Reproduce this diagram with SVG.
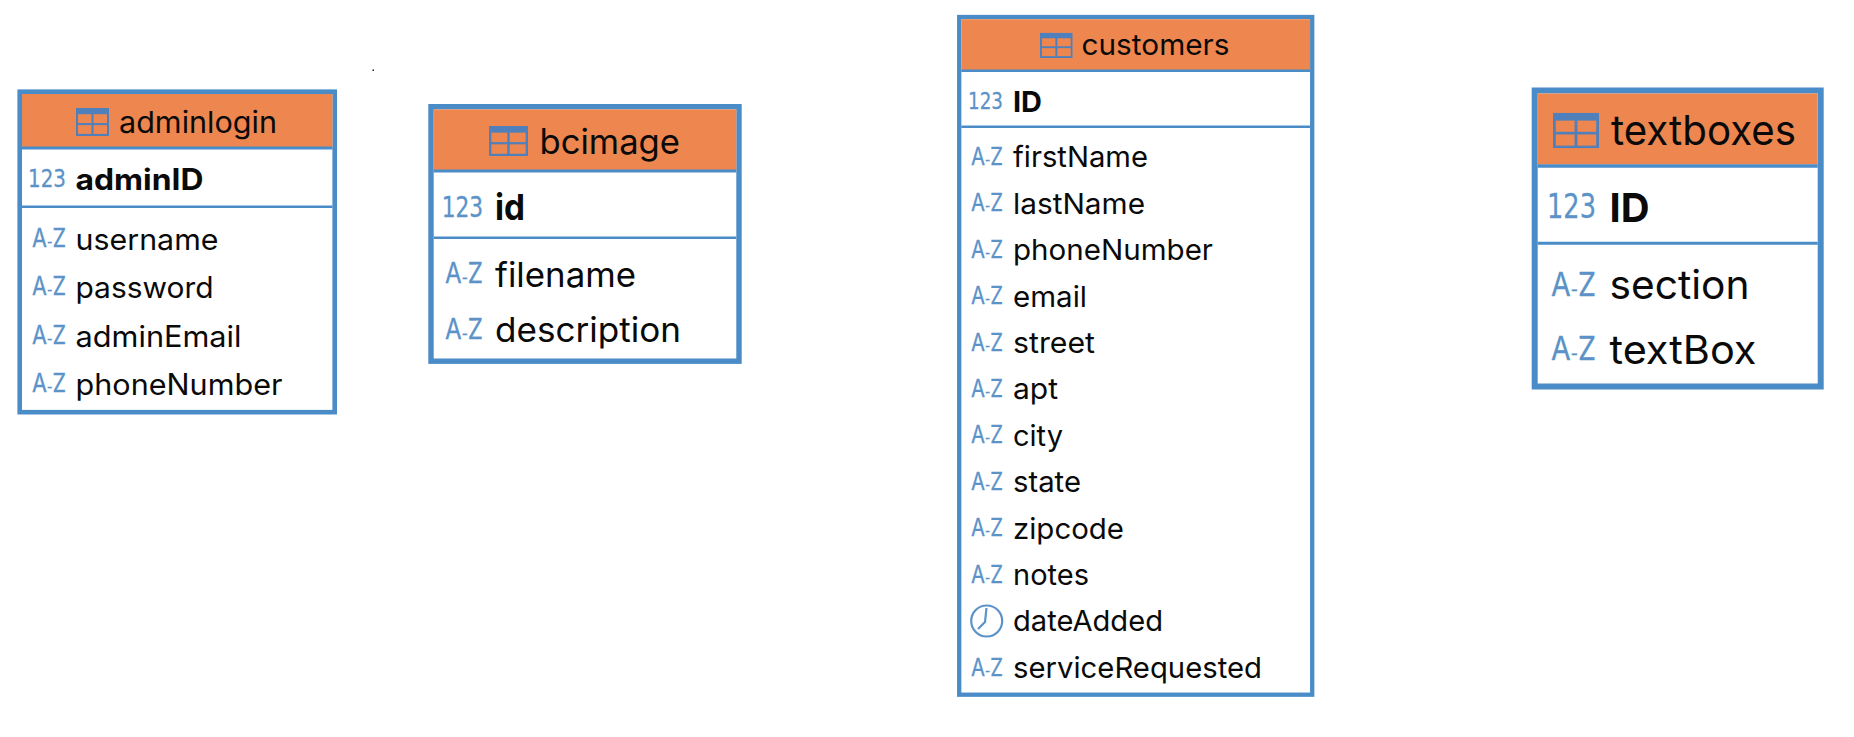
<svg xmlns="http://www.w3.org/2000/svg" width="1854" height="737" viewBox="0 0 1854 737">
<style>
.frame{fill:#fff;stroke:#4a8cc7}
.head{fill:#ee864f}
.div{stroke:#4a8cc7;fill:none}
text{font-family:Inter,"Liberation Sans",sans-serif;fill:#0a0a0a}
.pk{font-weight:700}
text.ico{fill:#5b93c8;stroke:#5b93c8;stroke-width:.3}
.hy{font-size:.55em}
.num{font-family:"DejaVu Sans",sans-serif}
.clock{fill:none;stroke:#5b93c8;stroke-width:2.2}
</style>
<defs>
<symbol id="tbl" viewBox="0 0 33 27" preserveAspectRatio="none">
<rect x="0" y="0" width="33" height="27" fill="#5080bb"/>
<rect x="2" y="6" width="13.5" height="8.5" fill="#ee864f"/>
<rect x="17.5" y="6" width="13.5" height="8.5" fill="#ee864f"/>
<rect x="2" y="16.5" width="13.5" height="8.5" fill="#ee864f"/>
<rect x="17.5" y="16.5" width="13.5" height="8.5" fill="#ee864f"/>
</symbol>
</defs>
<rect width="1854" height="737" fill="#fff"/>
<rect x="372.5" y="69.5" width="1.5" height="1.5" fill="#222"/>
<g id="connectors"></g>

<g id="adminlogin" font-size="29.5">
<rect class="frame" x="19.7" y="91.7" width="315" height="320.5" stroke-width="4.6"/>
<rect class="head" x="22" y="94" width="310.5" height="53"/>
<path class="div" stroke-width="3" d="M22 148H332.5"/>
<path class="div" stroke-width="2.4" d="M22 206.7H332.5"/>
<use href="#tbl" x="76" y="108" width="33" height="28"/>
<text x="119" y="132.7" font-size="30" textLength="158" lengthAdjust="spacingAndGlyphs">adminlogin</text>
<text class="ico num" x="28" y="187" font-size="25" textLength="38" lengthAdjust="spacingAndGlyphs">123</text>
<text class="pk" x="75.5" y="190.3" textLength="128" lengthAdjust="spacingAndGlyphs">adminID</text>
<text class="ico" x="32" y="247" font-size="25" textLength="34" lengthAdjust="spacingAndGlyphs">A<tspan class="hy">-</tspan>Z</text>
<text x="75.5" y="250" textLength="143" lengthAdjust="spacingAndGlyphs">username</text>
<text class="ico" x="32" y="295" font-size="25" textLength="34" lengthAdjust="spacingAndGlyphs">A<tspan class="hy">-</tspan>Z</text>
<text x="75.5" y="298" textLength="138" lengthAdjust="spacingAndGlyphs">password</text>
<text class="ico" x="32" y="344" font-size="25" textLength="34" lengthAdjust="spacingAndGlyphs">A<tspan class="hy">-</tspan>Z</text>
<text x="75.5" y="347" textLength="166" lengthAdjust="spacingAndGlyphs">adminEmail</text>
<text class="ico" x="32" y="392" font-size="25" textLength="34" lengthAdjust="spacingAndGlyphs">A<tspan class="hy">-</tspan>Z</text>
<text x="75.5" y="395" textLength="207" lengthAdjust="spacingAndGlyphs">phoneNumber</text>
</g>

<g id="bcimage" font-size="34">
<rect class="frame" x="431" y="106.7" width="308" height="254.5" stroke-width="5.4"/>
<rect class="head" x="433.7" y="109.4" width="302.6" height="60.6"/>
<path class="div" stroke-width="3" d="M433.7 171H736.3"/>
<path class="div" stroke-width="2.6" d="M433.7 237.7H736.3"/>
<use href="#tbl" x="489" y="126" width="39" height="30"/>
<text x="539.5" y="154" font-size="35" textLength="140.5" lengthAdjust="spacingAndGlyphs">bcimage</text>
<text class="ico num" x="441.7" y="216.7" font-size="29" textLength="41.5" lengthAdjust="spacingAndGlyphs">123</text>
<text class="pk" x="495" y="220" font-size="36" textLength="30" lengthAdjust="spacingAndGlyphs">id</text>
<text class="ico" x="445" y="283" font-size="29" textLength="38" lengthAdjust="spacingAndGlyphs">A<tspan class="hy">-</tspan>Z</text>
<text x="495" y="287" textLength="141" lengthAdjust="spacingAndGlyphs">filename</text>
<text class="ico" x="445" y="339" font-size="29" textLength="38" lengthAdjust="spacingAndGlyphs">A<tspan class="hy">-</tspan>Z</text>
<text x="495" y="342" textLength="186" lengthAdjust="spacingAndGlyphs">description</text>
</g>

<g id="customers" font-size="29">
<rect class="frame" x="959.2" y="17" width="353" height="677.7" stroke-width="4.3"/>
<rect class="head" x="961.3" y="19.2" width="348.8" height="50.8"/>
<path class="div" stroke-width="2.6" d="M961.3 70.7H1310.1"/>
<path class="div" stroke-width="2.6" d="M961.3 126.7H1310.1"/>
<use href="#tbl" x="1040" y="32.7" width="32.7" height="25.3"/>
<text x="1081.5" y="55" font-size="29.5" textLength="148" lengthAdjust="spacingAndGlyphs">customers</text>
<text class="ico num" x="968" y="109" font-size="23.5" textLength="35" lengthAdjust="spacingAndGlyphs">123</text>
<text class="pk" x="1013" y="112.2" textLength="29" lengthAdjust="spacingAndGlyphs">ID</text>
<text class="ico" x="971" y="165" font-size="24" textLength="32" lengthAdjust="spacingAndGlyphs">A<tspan class="hy">-</tspan>Z</text>
<text x="1013" y="167.4" textLength="135" lengthAdjust="spacingAndGlyphs">firstName</text>
<text class="ico" x="971" y="211.4" font-size="24" textLength="32" lengthAdjust="spacingAndGlyphs">A<tspan class="hy">-</tspan>Z</text>
<text x="1013" y="213.8" textLength="132" lengthAdjust="spacingAndGlyphs">lastName</text>
<text class="ico" x="971" y="257.8" font-size="24" textLength="32" lengthAdjust="spacingAndGlyphs">A<tspan class="hy">-</tspan>Z</text>
<text x="1013" y="260.2" textLength="200" lengthAdjust="spacingAndGlyphs">phoneNumber</text>
<text class="ico" x="971" y="304.2" font-size="24" textLength="32" lengthAdjust="spacingAndGlyphs">A<tspan class="hy">-</tspan>Z</text>
<text x="1013" y="306.6" textLength="74" lengthAdjust="spacingAndGlyphs">email</text>
<text class="ico" x="971" y="350.6" font-size="24" textLength="32" lengthAdjust="spacingAndGlyphs">A<tspan class="hy">-</tspan>Z</text>
<text x="1013" y="353" textLength="82" lengthAdjust="spacingAndGlyphs">street</text>
<text class="ico" x="971" y="397" font-size="24" textLength="32" lengthAdjust="spacingAndGlyphs">A<tspan class="hy">-</tspan>Z</text>
<text x="1013" y="399.4" textLength="45" lengthAdjust="spacingAndGlyphs">apt</text>
<text class="ico" x="971" y="443.4" font-size="24" textLength="32" lengthAdjust="spacingAndGlyphs">A<tspan class="hy">-</tspan>Z</text>
<text x="1013" y="445.8" textLength="50" lengthAdjust="spacingAndGlyphs">city</text>
<text class="ico" x="971" y="489.8" font-size="24" textLength="32" lengthAdjust="spacingAndGlyphs">A<tspan class="hy">-</tspan>Z</text>
<text x="1013" y="492.2" textLength="68" lengthAdjust="spacingAndGlyphs">state</text>
<text class="ico" x="971" y="536.2" font-size="24" textLength="32" lengthAdjust="spacingAndGlyphs">A<tspan class="hy">-</tspan>Z</text>
<text x="1013" y="538.6" textLength="111" lengthAdjust="spacingAndGlyphs">zipcode</text>
<text class="ico" x="971" y="582.6" font-size="24" textLength="32" lengthAdjust="spacingAndGlyphs">A<tspan class="hy">-</tspan>Z</text>
<text x="1013" y="585" textLength="76" lengthAdjust="spacingAndGlyphs">notes</text>
<circle class="clock" cx="986.7" cy="621" r="15.5"/>
<path class="clock" d="M986.5 608L985 622L978 629"/>
<text x="1013" y="631.4" textLength="150" lengthAdjust="spacingAndGlyphs">dateAdded</text>
<text class="ico" x="971" y="675.6" font-size="24" textLength="32" lengthAdjust="spacingAndGlyphs">A<tspan class="hy">-</tspan>Z</text>
<text x="1013" y="678" textLength="249" lengthAdjust="spacingAndGlyphs">serviceRequested</text>
</g>

<g id="textboxes" font-size="40">
<rect class="frame" x="1534.7" y="90.5" width="286" height="296" stroke-width="6"/>
<rect class="head" x="1537.7" y="93.5" width="280" height="71"/>
<path class="div" stroke-width="3.4" d="M1537.7 166H1817.7"/>
<path class="div" stroke-width="3" d="M1537.7 243.3H1817.7"/>
<use href="#tbl" x="1553" y="112.7" width="46" height="35.6"/>
<text x="1611" y="145" font-size="41" textLength="185" lengthAdjust="spacingAndGlyphs">textboxes</text>
<text class="ico num" x="1547" y="218" font-size="33" textLength="49" lengthAdjust="spacingAndGlyphs">123</text>
<text class="pk" x="1609.5" y="222.2" textLength="40" lengthAdjust="spacingAndGlyphs">ID</text>
<text class="ico" x="1551" y="295.7" font-size="33" textLength="45" lengthAdjust="spacingAndGlyphs">A<tspan class="hy">-</tspan>Z</text>
<text x="1609.5" y="299.3" textLength="140" lengthAdjust="spacingAndGlyphs">section</text>
<text class="ico" x="1551" y="360" font-size="33" textLength="45" lengthAdjust="spacingAndGlyphs">A<tspan class="hy">-</tspan>Z</text>
<text x="1609.5" y="364.3" textLength="147" lengthAdjust="spacingAndGlyphs">textBox</text>
</g>
</svg>
